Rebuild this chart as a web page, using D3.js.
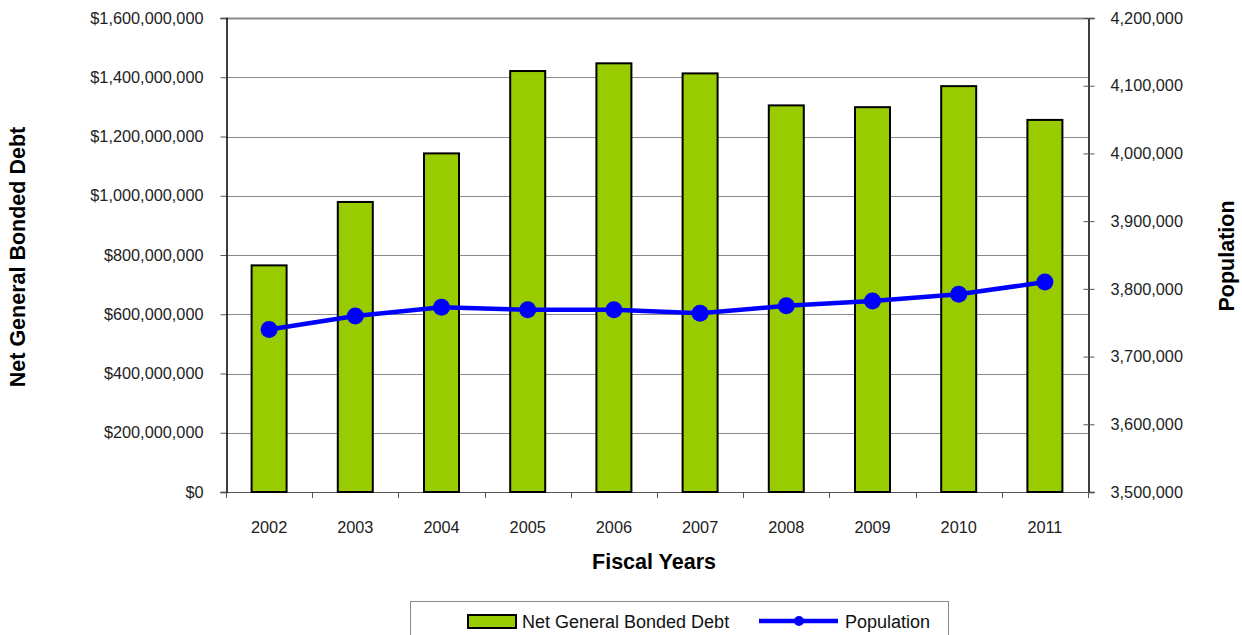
<!DOCTYPE html>
<html>
<head>
<meta charset="utf-8">
<script src="https://cdn.jsdelivr.net/npm/d3@7/dist/d3.min.js"></script>
<style>
  html, body { margin: 0; padding: 0; background: #fff; }
  svg { display: block; font-family: "Liberation Sans", Arial, sans-serif; }
</style>
</head>
<body>
<svg id="chart" width="1242" height="635"></svg>
<script>
// Fiscal years and the two series plotted against them
const years = ["2002", "2003", "2004", "2005", "2006", "2007", "2008", "2009", "2010", "2011"];
const debt = [765e6, 979e6, 1143e6, 1421e6, 1447e6, 1413e6, 1305e6, 1299e6, 1370e6, 1256e6];
const population = [3740000, 3760000, 3773000, 3769000, 3769000, 3764000, 3775000, 3782000, 3792000, 3810000];

// Axis tick values
const debtTicks = [0, 200e6, 400e6, 600e6, 800e6, 1000e6, 1200e6, 1400e6, 1600e6];
const popTicks = [3500000, 3600000, 3700000, 3800000, 3900000, 4000000, 4100000, 4200000];

const svg = d3.select("#chart");
const plot = { left: 226, right: 1088, top: 18, bottom: 492 };

const x = d3.scaleBand().domain(years).range([plot.left, plot.right]).paddingInner(0).paddingOuter(0);
const yL = d3.scaleLinear().domain([0, 1600e6]).range([plot.bottom, plot.top]);
const yR = d3.scaleLinear().domain([3500000, 4200000]).range([plot.bottom, plot.top]);

const fmtDollar = v => "$" + d3.format(",")(v);
const fmtNum = d3.format(",");

// Horizontal gridlines on the left scale
svg.append("g")
  .selectAll("line")
  .data(debtTicks)
  .join("line")
  .attr("x1", plot.left).attr("x2", plot.right)
  .attr("y1", d => Math.round(yL(d)) + 0.5).attr("y2", d => Math.round(yL(d)) + 0.5)
  .attr("stroke", d => d === 0 ? "#555" : "#8a8a8a")
  .attr("stroke-width", d => d === 1600e6 ? 2 : 1);

// Left axis
const leftAxis = svg.append("g")
  .attr("transform", `translate(${plot.left + 0.5},0)`)
  .call(d3.axisLeft(yL).tickValues(debtTicks).tickFormat(fmtDollar).tickSize(6).tickPadding(17));
leftAxis.select(".domain").attr("stroke", "#000").attr("stroke-width", 1.5);
leftAxis.selectAll(".tick line").attr("stroke", "#555");
leftAxis.selectAll("text").attr("font-size", 16.3).attr("fill", "#222")
  .attr("font-family", "'Liberation Sans', Arial, sans-serif");

// Right axis (ticks cross the axis line)
const rightAxis = svg.append("g")
  .attr("transform", `translate(${plot.right + 0.5},0)`)
  .call(d3.axisRight(yR).tickValues(popTicks).tickFormat(fmtNum).tickSize(6).tickPadding(16));
rightAxis.select(".domain").attr("stroke", "#000").attr("stroke-width", 1.5);
rightAxis.selectAll(".tick line").attr("x1", -5).attr("stroke", "#555");
rightAxis.selectAll("text").attr("font-size", 16.3).attr("fill", "#222")
  .attr("font-family", "'Liberation Sans', Arial, sans-serif");

// Bottom axis with ticks at category boundaries
const bottom = svg.append("g");
bottom.selectAll("line.sep")
  .data(d3.range(years.length + 1))
  .join("line")
  .attr("class", "sep")
  .attr("x1", i => Math.round(plot.left + i * x.bandwidth()) + 0.5)
  .attr("x2", i => Math.round(plot.left + i * x.bandwidth()) + 0.5)
  .attr("y1", plot.bottom).attr("y2", plot.bottom + 6)
  .attr("stroke", "#555");
bottom.selectAll("text")
  .data(years)
  .join("text")
  .attr("x", d => x(d) + x.bandwidth() / 2)
  .attr("y", 533)
  .attr("text-anchor", "middle")
  .attr("font-size", 16.3).attr("fill", "#222")
  .text(d => d);

// Bars
const barW = 35;
svg.append("g")
  .selectAll("rect")
  .data(years.map((y, i) => ({ year: y, value: debt[i] })))
  .join("rect")
  .attr("x", d => x(d.year) + x.bandwidth() / 2 - barW / 2)
  .attr("y", d => yL(d.value))
  .attr("width", barW)
  .attr("height", d => yL(0) - yL(d.value))
  .attr("fill", "#99cc00")
  .attr("stroke", "#000")
  .attr("stroke-width", 2);

// Population line and markers
const popData = years.map((y, i) => ({ year: y, value: population[i] }));
svg.append("path")
  .datum(popData)
  .attr("fill", "none")
  .attr("stroke", "#0000ff")
  .attr("stroke-width", 4.5)
  .attr("stroke-linejoin", "round")
  .attr("d", d3.line().x(d => x(d.year) + x.bandwidth() / 2).y(d => yR(d.value)));
svg.append("g")
  .selectAll("circle")
  .data(popData)
  .join("circle")
  .attr("cx", d => x(d.year) + x.bandwidth() / 2)
  .attr("cy", d => yR(d.value))
  .attr("r", 8.5)
  .attr("fill", "#0000ff");

// Axis titles
svg.append("text")
  .attr("transform", "translate(25,257) rotate(-90)")
  .attr("text-anchor", "middle")
  .attr("font-size", 21.5).attr("font-weight", "bold")
  .text("Net General Bonded Debt");
svg.append("text")
  .attr("transform", "translate(1234,256) rotate(-90)")
  .attr("text-anchor", "middle")
  .attr("font-size", 21.5).attr("font-weight", "bold")
  .text("Population");
svg.append("text")
  .attr("x", 654).attr("y", 569)
  .attr("text-anchor", "middle")
  .attr("font-size", 21.5).attr("font-weight", "bold")
  .text("Fiscal Years");

// Legend
const legend = svg.append("g");
legend.append("rect")
  .attr("x", 410.5).attr("y", 601.5).attr("width", 538).attr("height", 45)
  .attr("fill", "#fff").attr("stroke", "#8a8a8a").attr("stroke-width", 1);
legend.append("rect")
  .attr("x", 468).attr("y", 615).attr("width", 48).attr("height", 13)
  .attr("fill", "#99cc00").attr("stroke", "#000").attr("stroke-width", 2);
legend.append("text")
  .attr("x", 522).attr("y", 627.5)
  .attr("font-size", 18).attr("fill", "#111")
  .text("Net General Bonded Debt");
legend.append("line")
  .attr("x1", 759).attr("x2", 838).attr("y1", 621).attr("y2", 621)
  .attr("stroke", "#0000ff").attr("stroke-width", 4.5);
legend.append("circle")
  .attr("cx", 799).attr("cy", 621).attr("r", 5).attr("fill", "#0000ff");
legend.append("text")
  .attr("x", 845).attr("y", 627.5)
  .attr("font-size", 18).attr("fill", "#111")
  .text("Population");
</script>
</body>
</html>
